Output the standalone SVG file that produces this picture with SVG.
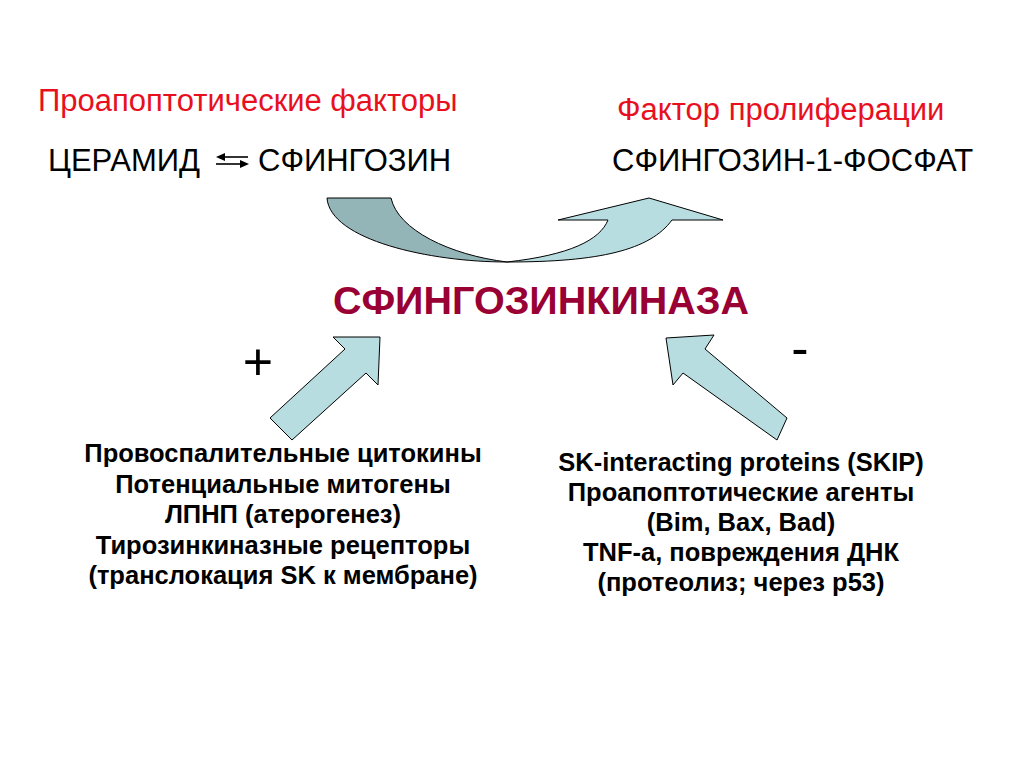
<svg xmlns="http://www.w3.org/2000/svg" width="1024" height="768" viewBox="0 0 1024 768">
<style>
text{font-family:"Liberation Sans",Arial,sans-serif}
.red{fill:#e8101e;font-size:31px}
.blk{fill:#000;font-size:31px}
.b{font-weight:bold;font-size:25.5px;fill:#000;text-anchor:middle}
.ar{fill:#b7dde1;stroke:#000;stroke-width:1}
</style>
<rect width="1024" height="768" fill="#fff"/>
<g id="labels">
<text class="red" x="38" y="111">Проапоптотические факторы</text>
<text class="red" x="617" y="120">Фактор пролиферации</text>
<text class="blk" x="48" y="171">ЦЕРАМИД</text>
<text class="blk" x="258" y="171">СФИНГОЗИН</text>
<text class="blk" x="612" y="171">СФИНГОЗИН-1-ФОСФАТ</text>
<text x="541" y="314" text-anchor="middle" font-size="39.5" font-weight="bold" fill="#990033">СФИНГОЗИНКИНАЗА</text>
<text x="258" y="380" text-anchor="middle" font-size="52" fill="#000">+</text>
<text x="800" y="366" text-anchor="middle" font-size="52" fill="#000">-</text>
</g>
<g id="left-text">
<text class="b" x="283" y="462">Провоспалительные цитокины</text>
<text class="b" x="283" y="493">Потенциальные митогены</text>
<text class="b" x="283" y="523">ЛПНП (атерогенез)</text>
<text class="b" x="283" y="554">Тирозинкиназные рецепторы</text>
<text class="b" x="283" y="584">(транслокация SK к мембране)</text>
</g>
<g id="right-text">
<text class="b" x="741" y="471">SK-interacting proteins (SKIP)</text>
<text class="b" x="741" y="501">Проапоптотические агенты</text>
<text class="b" x="741" y="531">(Bim, Bax, Bad)</text>
<text class="b" x="741" y="561">TNF-a, повреждения ДНК</text>
<text class="b" x="741" y="591">(протеолиз; через p53)</text>
</g>
<g id="connectors">
<g id="double-arrow" stroke="#000" stroke-width="1.6" fill="#000">
<line x1="222" y1="157" x2="248" y2="157"/>
<path d="M216,157 L225,153 L225,161 Z" stroke="none"/>
<line x1="216" y1="164" x2="242" y2="164"/>
<path d="M249,164 L240,160 L240,168 Z" stroke="none"/>
</g>
<path d="M327,198 L391,198 C398,230 450,255 507,262 C430,262 330,240 327,198 Z" fill="#93b5b8" stroke="#000" stroke-width="1"/>
<path class="ar" d="M507,262 C570,255 600,240 608,220 L558,220 L649,198 L723,220 L672,220 C650,250 600,262 507,262 Z"/>
<path class="ar" d="M380,337 L333,337 L345,349 L270,418 L292,440 L366,373 L378,385 Z"/>
<path class="ar" d="M666,338 L714,335 L705,349 L787,418 L777,440 L683,373 L673,385 Z"/>
</g>
</svg>
